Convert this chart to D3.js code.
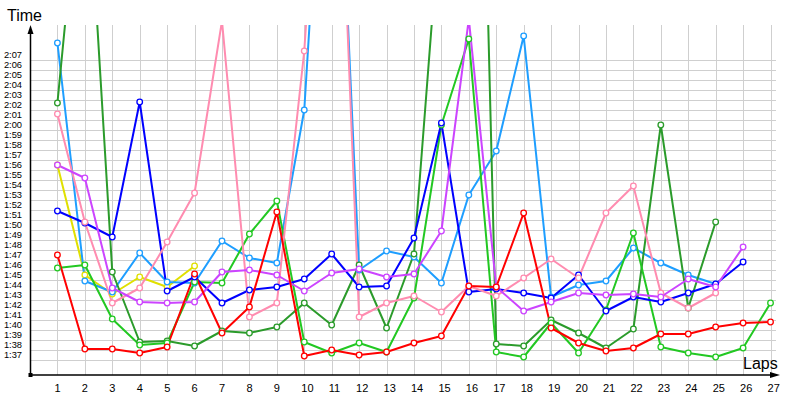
<!DOCTYPE html>
<html>
<head>
<meta charset="utf-8">
<script src="https://cdn.jsdelivr.net/npm/d3@7"></script>
<style>
  body { margin: 0; background: #fff; }
  svg text { font-family: "Liberation Sans", Arial, sans-serif; fill: #000; }
</style>
</head>
<body>
<svg id="chart" width="800" height="400"></svg>
<script>
// lap numbers
var laps = [1, 2, 3, 4, 5, 6, 7, 8, 9, 10, 11, 12, 13, 14, 15, 16, 17, 18, 19, 20, 21, 22, 23, 24, 25, 26, 27];

// time axis labels
var timeTicks = ["1:37", "1:38", "1:39", "1:40", "1:41", "1:42", "1:43", "1:44", "1:45", "1:46",
  "1:47", "1:48", "1:49", "1:50", "1:51", "1:52", "1:53", "1:54", "1:55", "1:56",
  "1:57", "1:58", "1:59", "2:00", "2:01", "2:02", "2:03", "2:04", "2:05", "2:06", "2:07"];

// lap times in seconds, one array per driver, lap 1 first
var redLaps = [107.0, 97.6, 97.6, 97.2, 97.8, 105.1, 99.2, 101.8, 111.3, 96.9, 97.5, 97.0, 97.3, 98.2,
  98.9, 103.9, 103.8, 111.2, 99.7, 98.2, 97.4, 97.7, 99.1, 99.1, 99.8, 100.2, 100.3];
var greenLaps = [105.7, 106.0, 100.6, 98.0, 98.2, 104.3, 104.2, 109.1, 112.4, 98.3, 97.2, 98.2, 97.3, 102.7,
  120.0, 128.6, 97.3, 96.8, 100.2, 97.2, 101.5, 109.2, 97.8, 97.2, 96.8, 97.7, 102.2];
var darkGreenLaps = [122.2, 150.5, 105.3, 98.3, 98.4, 97.9, 99.4, 99.2, 99.8, 102.2, 100.0, 106.0, 99.7, 107.1,
  142.6, 207.4, 98.1, 97.9, 100.5, 99.2, 97.7, 99.6, 120.0, 101.7, 110.3];
var blueLaps = [111.4, 110.2, 108.8, 122.3, 103.4, 104.8, 102.2, 103.5, 103.8, 104.6, 107.1, 103.8, 103.9, 108.7,
  120.2, 103.3, 103.6, 103.2, 102.7, 105.0, 101.4, 102.8, 102.3, 103.2, 104.1, 106.3];
var lightBlueLaps = [128.2, 104.4, 103.3, 107.2, 104.3, 104.2, 108.4, 106.7, 106.2, 121.5, 166.0, 105.5, 107.4, 106.8,
  104.2, 113.0, 117.4, 128.9, 102.8, 104.0, 104.4, 107.7, 106.2, 105.0, 104.1];
var pinkLaps = [121.1, 110.3, 102.2, 103.7, 108.3, 113.2, 130.4, 100.8, 102.2, 127.4, 169.0, 100.8, 102.2, 102.9,
  101.3, 103.9, 102.9, 104.7, 106.6, 104.7, 111.2, 113.9, 103.2, 101.7, 103.2];
var purpleLaps = [116.0, 114.7, 103.7, 102.3, 102.2, 102.3, 105.3, 105.5, 105.0, 103.4, 105.2, 105.6, 104.8, 105.1,
  109.4, 130.6, 103.8, 101.4, 102.3, 103.2, 103.0, 103.1, 102.8, 104.6, 103.8, 107.8];
var yellowLaps = [116.0, 105.0, 103.1, 104.8, 103.8, 105.9];

var series = [
  { color: "#e0e000", values: yellowLaps },
  { color: "#1e9eff", values: lightBlueLaps },
  { color: "#2b9b2b", values: darkGreenLaps },
  { color: "#22c822", values: greenLaps },
  { color: "#0000ff", values: blueLaps },
  { color: "#ff8cb0", values: pinkLaps },
  { color: "#cc44ff", values: purpleLaps },
  { color: "#ff0000", values: redLaps }
];

function toSec(s) {
  var p = s.split(":");
  return +p[0] * 60 + +p[1];
}
function fmt(t) {
  var m = Math.floor(t / 60), s = Math.round(t - m * 60);
  return m + ":" + (s < 10 ? "0" : "") + s;
}

var svg = d3.select("#chart");
var plotLeft = 30, plotRight = 776, plotTop = 25, plotBottom = 375;

var x = d3.scaleLinear().domain([0, 27.2]).range([plotLeft, plotRight]);
var y = d3.scaleLinear().domain([95, 130]).range([plotBottom, plotTop]);

var tickSecs = timeTicks.map(toSec);

// grid
var grid = svg.append("g").attr("stroke", "#cfcfcf").attr("stroke-width", 1);
grid.selectAll("line.v").data(laps).enter().append("line")
  .attr("class", "v")
  .attr("x1", function(d){ return Math.round(x(d)) + 0.5; })
  .attr("x2", function(d){ return Math.round(x(d)) + 0.5; })
  .attr("y1", plotTop).attr("y2", plotBottom);
grid.selectAll("line.h").data(tickSecs).enter().append("line")
  .attr("class", "h")
  .attr("x1", plotLeft).attr("x2", plotRight)
  .attr("y1", function(d){ return Math.round(y(d - 0.5)) + 0.5; })
  .attr("y2", function(d){ return Math.round(y(d - 0.5)) + 0.5; });

// plot area
svg.append("defs").append("clipPath").attr("id", "plot")
  .append("rect").attr("x", plotLeft).attr("y", plotTop)
  .attr("width", plotRight - plotLeft).attr("height", plotBottom - plotTop);

var line = d3.line()
  .defined(function(d){ return d != null; })
  .x(function(d, i){ return x(laps[i]); })
  .y(function(d){ return y(d); });

var plot = svg.append("g").attr("clip-path", "url(#plot)");

series.forEach(function(s){
  plot.append("path")
    .attr("d", line(s.values))
    .attr("fill", "none")
    .attr("stroke", s.color)
    .attr("stroke-width", 2)
    .attr("stroke-linejoin", "round");
});
series.forEach(function(s){
  plot.selectAll(null).data(s.values).enter().append("circle")
    .attr("cx", function(d, i){ return x(laps[i]); })
    .attr("cy", function(d){ return y(d); })
    .attr("r", 2.8)
    .attr("fill", "#fff")
    .attr("stroke", s.color)
    .attr("stroke-width", 1.3);
});

// axes
var xAxis = svg.append("g").attr("transform", "translate(0," + plotBottom + ")")
  .call(d3.axisBottom(x).tickValues(laps).tickSize(0).tickPadding(9));
xAxis.select(".domain").remove();
xAxis.attr("font-family", null).attr("font-size", 11);
xAxis.selectAll("text").attr("text-anchor", "start").attr("dx", -3.5);

var yAxis = svg.append("g").attr("transform", "translate(" + plotLeft + ",0)")
  .call(d3.axisLeft(y).tickValues(tickSecs).tickFormat(fmt).tickSize(0).tickPadding(8));
yAxis.select(".domain").remove();
yAxis.attr("font-family", null).attr("font-size", 9.3);

svg.append("line").attr("x1", plotLeft + 0.5).attr("x2", plotLeft + 0.5)
  .attr("y1", plotBottom).attr("y2", plotTop + 6)
  .attr("stroke", "#000").attr("stroke-width", 1.5);
svg.append("line").attr("x1", plotLeft).attr("x2", 772).attr("y1", plotBottom).attr("y2", plotBottom)
  .attr("stroke", "#000").attr("stroke-width", 1.5);
svg.append("path").attr("d", "M" + (plotLeft + 0.5) + "," + plotTop + "l-3,9h6z").attr("fill", "#000");
svg.append("path").attr("d", "M780," + plotBottom + "l-10,-3v6z").attr("fill", "#000");
svg.append("rect").attr("x", plotLeft - 1.5).attr("y", plotBottom - 2)
  .attr("width", 4).attr("height", 4).attr("fill", "#000");

svg.append("text").attr("x", 7).attr("y", 21).attr("font-size", 16).text("Time");
svg.append("text").attr("x", 743).attr("y", 369).attr("font-size", 16).text("Laps");
</script>
</body>
</html>
